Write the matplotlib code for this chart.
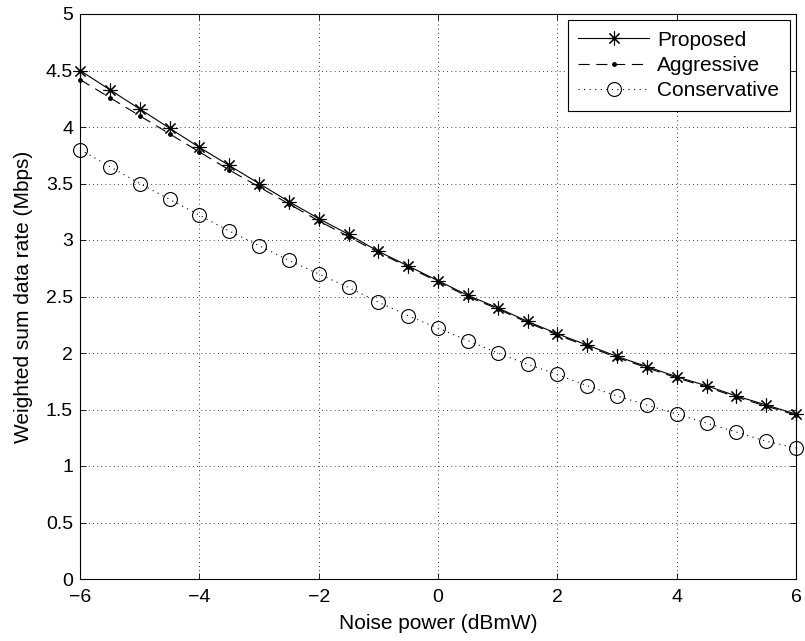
import matplotlib
matplotlib.use("Agg")
import matplotlib.pyplot as plt

plt.rcParams["font.family"] = ["Liberation Sans", "DejaVu Sans"]
plt.rcParams["font.size"] = 14

# ---------- data ----------
noise_dbmw = [-6, -5.5, -5, -4.5, -4, -3.5, -3, -2.5, -2, -1.5, -1, -0.5, 0,
              0.5, 1, 1.5, 2, 2.5, 3, 3.5, 4, 4.5, 5, 5.5, 6]

proposed = [4.50, 4.33, 4.16, 3.99, 3.82, 3.66, 3.50, 3.34, 3.19, 3.05, 2.90,
            2.77, 2.64, 2.51, 2.40, 2.28, 2.17, 2.07, 1.97, 1.88, 1.79, 1.71,
            1.62, 1.54, 1.46]

aggressive = [4.42, 4.26, 4.10, 3.94, 3.78, 3.62, 3.47, 3.32, 3.17, 3.03, 2.89,
              2.76, 2.63, 2.50, 2.39, 2.27, 2.16, 2.06, 1.96, 1.87, 1.78, 1.70,
              1.61, 1.53, 1.45]

conservative = [3.80, 3.65, 3.50, 3.36, 3.22, 3.08, 2.95, 2.82, 2.70, 2.58, 2.45,
                2.33, 2.22, 2.11, 2.00, 1.90, 1.81, 1.71, 1.62, 1.54, 1.46, 1.38,
                1.30, 1.22, 1.16]

fig = plt.figure(figsize=(8.05, 6.41), dpi=100)
ax = fig.add_axes([80 / 805, 62 / 641, 716 / 805, 565 / 641])

ax.plot(noise_dbmw, proposed, color="black", linestyle="-", linewidth=0.8,
        marker=(8, 2, 0), markersize=10, markeredgewidth=0.8, label="Proposed",
        clip_on=False, zorder=3)
ax.plot(noise_dbmw, aggressive, color="black", linestyle=(0, (10, 6)), linewidth=0.8,
        marker=".", markersize=5, label="Aggressive", clip_on=False, zorder=3)
ax.plot(noise_dbmw, conservative, color="black", linestyle=(0, (1, 4)), linewidth=0.8,
        marker="o", markersize=10, markerfacecolor="none", markeredgewidth=0.8,
        label="Conservative", clip_on=False, zorder=3)

ax.set_xlim(-6, 6)
ax.set_ylim(0, 5)
ax.set_xticks([-6, -4, -2, 0, 2, 4, 6])
ax.set_xticklabels(["\u22126", "\u22124", "\u22122", "0", "2", "4", "6"])
ax.set_yticks([0, 0.5, 1, 1.5, 2, 2.5, 3, 3.5, 4, 4.5, 5])
ax.set_yticklabels(["0", "0.5", "1", "1.5", "2", "2.5", "3", "3.5", "4", "4.5", "5"])
ax.tick_params(direction="in", length=4, width=0.6, top=True, right=True,
               labelsize=14)
ax.tick_params(axis="x", pad=7)
ax.tick_params(axis="y", pad=5)
ax.grid(True, color="black", linestyle=(0, (1, 4)), linewidth=0.6)

for s in ax.spines.values():
    s.set_linewidth(0.8)

ax.set_xlabel("Noise power (dBmW)", fontsize=15, labelpad=6)
ax.set_ylabel("Weighted sum data rate (Mbps)", fontsize=15, labelpad=9)

leg = ax.legend(loc="upper right", fancybox=False, edgecolor="black",
                framealpha=1, borderaxespad=0.3, borderpad=0.5,
                handlelength=3.4, handletextpad=0.4,
                labelspacing=0.3, fontsize=15)
leg.get_frame().set_linewidth(0.8)

fig.savefig("out.png", dpi=100)
